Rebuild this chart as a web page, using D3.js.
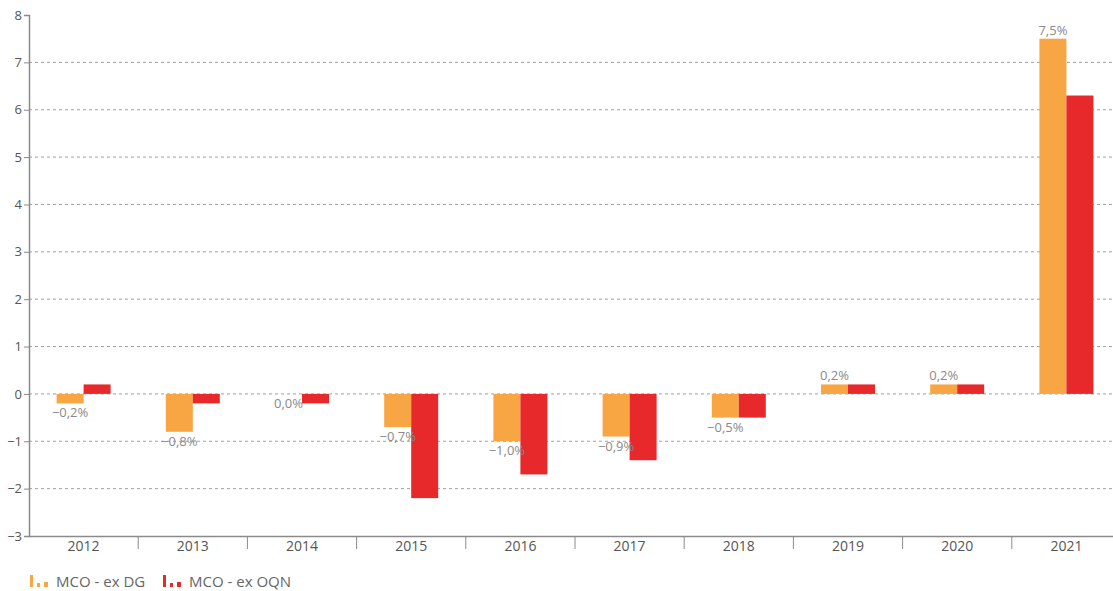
<!DOCTYPE html>
<html>
<head>
<meta charset="utf-8">
<script src="https://cdn.jsdelivr.net/npm/d3@7"></script>
<style>
	body { margin: 0; background: #fff; font-family: "Open Sans", sans-serif; }
	svg text { font-family: "Open Sans", sans-serif; }
</style>
</head>
<body>
<div id="chart"></div>
<script>
var years = ["2012", "2013", "2014", "2015", "2016", "2017", "2018", "2019", "2020", "2021"];
var seriesNames = ["MCO - ex DG", "MCO - ex OQN"];
var exDG = [-0.2, -0.8, 0.0, -0.7, -1.0, -0.9, -0.5, 0.2, 0.2, 7.5];
var exOQN = [0.2, -0.2, -0.2, -2.2, -1.7, -1.4, -0.5, 0.2, 0.2, 6.3];
var yTicks = [-3, -2, -1, 0, 1, 2, 3, 4, 5, 6, 7, 8];
var colors = ["#f8a543", "#e8292b"];

var width = 1113;
var height = 591;

var svg = d3.select('#chart')
	.append('svg')
	.attr('width', width)
	.attr('height', height);

var x = d3.scaleBand()
	.domain(years)
	.range([29, 1121]);

var y = d3.scaleLinear()
	.domain([-3, 8])
	.range([536, 15]);

var barW = 27;

// gridlines
svg.selectAll('.grid')
	.data(yTicks.filter(function(d) { return d > -3 && d < 8; }))
	.enter()
	.append('line')
	.attr('x1', 29)
	.attr('x2', width)
	.attr('y1', function(d) { return y(d); })
	.attr('y2', function(d) { return y(d); })
	.attr('stroke', '#a0a0a0')
	.attr('stroke-width', 1)
	.attr('stroke-dasharray', '3,3');

// bars
var data = [];
years.forEach(function(yr, i) {
	data.push({year: yr, s: 0, v: exDG[i]});
	data.push({year: yr, s: 1, v: exOQN[i]});
});

svg.selectAll('.bar')
	.data(data)
	.enter()
	.append('rect')
	.attr('x', function(d) { return x(d.year) + x.bandwidth() / 2 - barW + d.s * barW; })
	.attr('width', barW)
	.attr('y', function(d) { return y(Math.max(0, d.v)); })
	.attr('height', function(d) { return Math.abs(y(d.v) - y(0)); })
	.attr('fill', function(d) { return colors[d.s]; });

// labels on ex DG
var fmt = function(v) {
	return v.toFixed(1).replace('-', '\u2212').replace('.', ',') + '%';
};

svg.selectAll('.lbl')
	.data(exDG)
	.enter()
	.append('text')
	.attr('x', function(d, i) { return x(years[i]) + x.bandwidth() / 2 - barW / 2; })
	.attr('y', function(d) { return d > 0 ? y(d) - 4 : y(d) + 14; })
	.attr('text-anchor', 'middle')
	.attr('font-size', 13)
	.attr('fill', '#8a8a8a')
	.text(fmt);

// y axis
var yAxis = d3.axisLeft(y)
	.tickValues(yTicks)
	.tickSize(5)
	.tickFormat(function(d) { return String(d).replace('-', '\u2212'); });

var gy = svg.append('g')
	.attr('transform', 'translate(29,0)')
	.call(yAxis);
gy.select('.domain').attr('stroke', '#8a8a8a').attr('stroke-width', 1.5);
gy.selectAll('.tick line').attr('stroke', '#8a8a8a');
gy.selectAll('.tick text').attr('fill', '#555').attr('font-size', 13).attr('x', -7);

// x axis
var gx = svg.append('g')
	.attr('transform', 'translate(0,536)')
	.call(d3.axisBottom(x).tickSize(0).tickPadding(5));
gx.select('.domain').attr('stroke', '#8a8a8a').attr('stroke-width', 1.5);
gx.selectAll('.tick text').attr('fill', '#555').attr('font-size', 14);

gx.selectAll('.sep')
	.data(years.slice(1))
	.enter()
	.append('line')
	.attr('x1', function(d) { return x(d); })
	.attr('x2', function(d) { return x(d); })
	.attr('y1', 0)
	.attr('y2', 13)
	.attr('stroke', '#8a8a8a');

// legend
var legendX = [30, 163];
var legend = svg.selectAll('.legend')
	.data(seriesNames)
	.enter()
	.append('g')
	.attr('class', 'legend')
	.attr('transform', function(d, i) { return 'translate(' + legendX[i] + ',575)'; });

legend.append('rect').attr('x', 0).attr('y', 0).attr('width', 3).attr('height', 12)
	.attr('fill', function(d, i) { return colors[i]; });
legend.append('rect').attr('x', 7).attr('y', 8).attr('width', 3).attr('height', 4)
	.attr('fill', function(d, i) { return colors[i]; });
legend.append('rect').attr('x', 14).attr('y', 7).attr('width', 4).attr('height', 5)
	.attr('fill', function(d, i) { return colors[i]; });

legend.append('text')
	.attr('x', 26)
	.attr('y', 12)
	.attr('font-size', 15)
	.attr('fill', '#666')
	.text(function(d) { return d; });
</script>
</body>
</html>
